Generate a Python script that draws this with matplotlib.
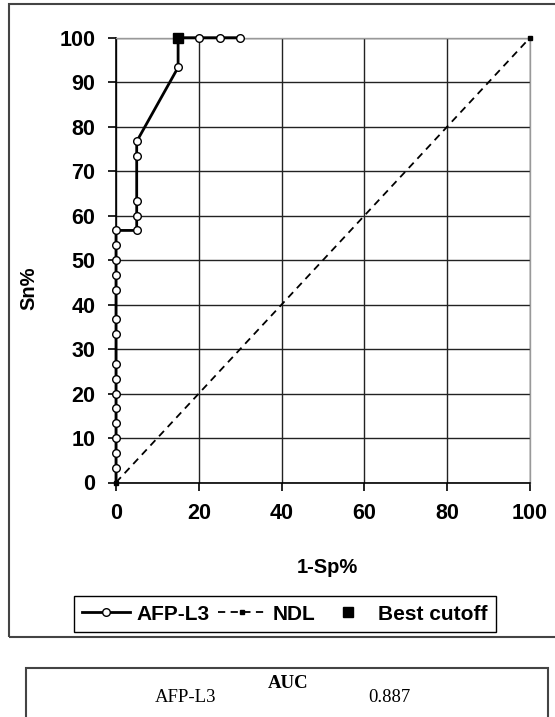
import matplotlib
matplotlib.use("Agg")
import matplotlib.pyplot as plt
from matplotlib.patches import Rectangle

# ROC points (1-Sp%, Sn%)
fpr = [0, 0, 0, 0, 0, 0, 0, 0, 0, 0, 0, 0, 0, 0, 0, 0,
       5, 5, 5, 5, 5, 15, 15, 20, 25, 30]
tpr = [0, 3.33, 6.67, 10, 13.33, 16.67, 20, 23.33, 26.67, 33.33, 36.67,
       43.33, 46.67, 50, 53.33, 56.67,
       56.67, 60, 63.33, 73.33, 76.67, 93.33, 100, 100, 100, 100]
ndl_x = [0, 100]
ndl_y = [0, 100]
best_x = [15]
best_y = [100]
auc_name = "AFP-L3"
auc_value = "0.887"

W, H = 555, 717
fig = plt.figure(figsize=(W / 100, H / 100), dpi=100)
ax = fig.add_axes([116 / W, 1 - 482.5 / H, 414 / W, 444.8 / H])

bold = dict(family="Liberation Sans", weight="bold")

ax.plot(ndl_x, ndl_y, color="black", lw=1.3, ls=(0, (4, 3)),
        marker="s", markersize=2.5, label="NDL", zorder=3, clip_on=False)
ax.plot(fpr, tpr, color="black", lw=2, marker="o", markersize=5.5,
        markerfacecolor="white", markeredgecolor="black", markeredgewidth=1,
        markevery=list(range(1, len(fpr))), label="AFP-L3", zorder=4,
        clip_on=False)
ax.plot(best_x, best_y, ls="none", marker="s", markersize=7, color="black",
        label="Best cutoff", zorder=5, clip_on=False)

ax.set_xlim(0, 100)
ax.set_ylim(0, 100)
ax.set_xticks(range(0, 101, 20))
ax.set_yticks(range(0, 101, 10))
ax.grid(True, color="#222222", lw=1)
ax.set_axisbelow(True)
for s in ["top", "right"]:
    ax.spines[s].set_color("#999999")
    ax.spines[s].set_linewidth(1)
for s in ["left", "bottom"]:
    ax.spines[s].set_color("black")
    ax.spines[s].set_linewidth(1.2)
ax.tick_params(direction="out", length=6, width=1.2, pad=9, labelsize=15.5)
for lab in ax.get_xticklabels() + ax.get_yticklabels():
    lab.set_fontfamily("Liberation Sans")
    lab.set_fontweight("bold")

ax.set_xlabel("1-Sp%", fontsize=14.5, **bold)
ax.set_ylabel("Sn%", fontsize=14.5, **bold)
ax.xaxis.set_label_coords(0.51, -0.17)
ax.yaxis.set_label_coords(-0.188, 0.437)

handles, labels = ax.get_legend_handles_labels()
order = [1, 0, 2]
leg = fig.legend([handles[i] for i in order], [labels[i] for i in order],
                 loc="lower left", bbox_to_anchor=(74 / W, 1 - 632 / H, 422 / W, 37 / H),
                 mode="expand", ncol=3, frameon=True, fancybox=False,
                 edgecolor="black", framealpha=1, borderaxespad=0,
                 handlelength=2.3, handletextpad=0.3, columnspacing=0.5,
                 prop={"family": "Liberation Sans", "weight": "bold", "size": 15})
leg.get_frame().set_linewidth(1)

# outer frame around the chart
fig.patches.append(Rectangle((9 / W, 1 - 637 / H), 600 / W, 633 / H,
                             transform=fig.transFigure, fill=False,
                             edgecolor="#444444", lw=1.5))
# AUC table box
fig.patches.append(Rectangle((26 / W, -0.05), 522 / W, 1 - 668 / H + 0.05,
                             transform=fig.transFigure, fill=False,
                             edgecolor="#444444", lw=1.5))
fig.text(288 / W, 1 - 683 / H, "AUC", ha="center", va="center",
         family="Liberation Serif", weight="bold", fontsize=13.5)
fig.text(186 / W, 1 - 698 / H, auc_name, ha="center", va="center",
         family="Liberation Serif", fontsize=13.5)
fig.text(389 / W, 1 - 698 / H, auc_value, ha="center", va="center",
         family="Liberation Serif", fontsize=13.5)

fig.savefig("out.png", dpi=100)
